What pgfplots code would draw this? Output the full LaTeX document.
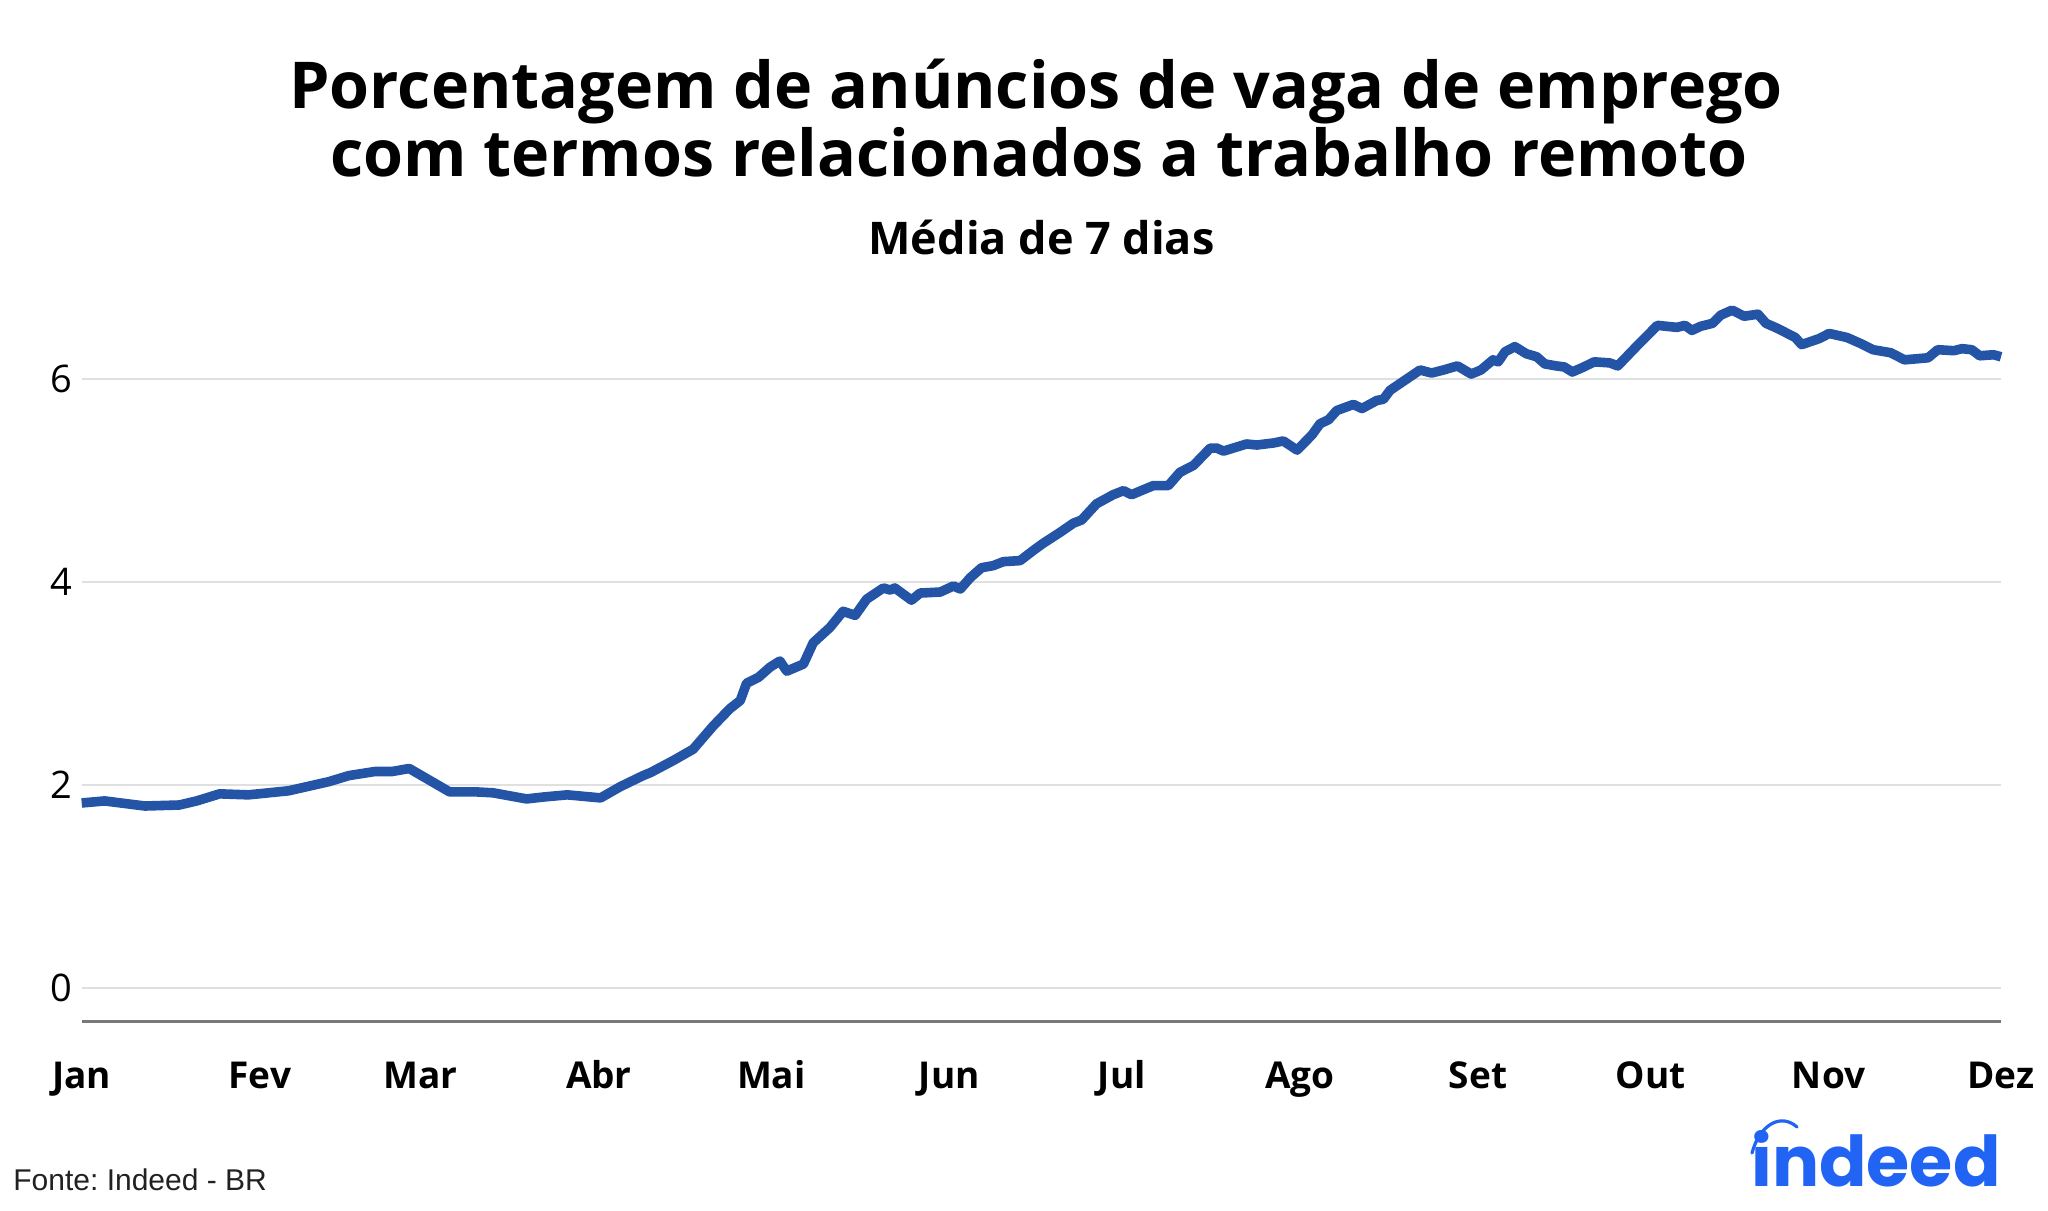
\documentclass[border=0pt]{standalone}
\usepackage{fontspec}
\setmainfont{Open Sans}
\newfontfamily\arialfont{Liberation Sans}
\newfontfamily\logofont{Poppins}
\usepackage{pgfplots}
\pgfplotsset{compat=1.18}
\definecolor{lineblue}{RGB}{35,84,166}
\definecolor{gridgray}{RGB}{224,224,224}
\definecolor{axisgray}{RGB}{120,120,120}
\definecolor{indeedblue}{RGB}{33,100,243}
\frenchspacing
\begin{document}
\begin{tikzpicture}
\useasboundingbox (0,0) rectangle (1024pt,605pt);
\begin{axis}[
  at={(40.85pt,94.15pt)}, anchor=south west,
  scale only axis, width=959.65pt, height=372pt,
  xmin=0, xmax=334, ymin=-0.337, ymax=7,
  clip=false,
  axis lines*=left,
  y axis line style={draw=none},
  x axis line style={draw=axisgray, line width=1.4pt, -},
  tick style={draw=none},
  major tick length=0pt,
  ytick={0,2,4,6},
  ymajorgrids,
  grid style={color=gridgray, line width=1pt},
  xtick={0,31,59,90,120,151,181,212,243,273,304,334},
  xticklabels={Jan,Fev,Mar,Abr,Mai,Jun,Jul,Ago,Set,Out,Nov,Dez},
  xticklabel style={font=\bfseries\fontsize{18.5}{20}\selectfont, anchor=base, yshift=-33.15pt},
  yticklabel style={font=\fontsize{19}{20}\selectfont, xshift=-1.15pt},
  /pgf/number format/assume math mode=true,
]
\addplot[color=lineblue, line width=4.8pt, line join=round, line cap=butt] coordinates {
(0,1.82) (4,1.84) (11,1.79) (17,1.80) (20,1.84) (24,1.91) (29,1.90) (36,1.94)
(43,2.03) (46.5,2.09) (51,2.13) (54,2.13) (57,2.16) (64,1.93) (68.4,1.93) (71.6,1.92)
(77.4,1.86) (80.6,1.88) (84.5,1.90) (90.3,1.87) (93.7,1.98) (97.7,2.09) (99,2.12)
(103,2.24) (106.4,2.35) (109.9,2.58) (112.8,2.75) (114.6,2.83) (115.7,3.00) (117.8,3.06)
(119.8,3.16) (121.5,3.22) (122.7,3.12) (125.6,3.19) (127.3,3.40) (130.2,3.55) (132.5,3.71)
(134.6,3.67) (136.6,3.83) (139.5,3.94) (140.7,3.92) (141.5,3.94) (144.4,3.82) (145.9,3.89)
(149.4,3.90) (151.7,3.96) (152.9,3.93) (154.6,4.04) (156.6,4.14) (158.6,4.16) (160.4,4.20)
(163.3,4.21) (165.6,4.31) (167.3,4.38) (170.3,4.49) (172.6,4.58) (174.0,4.61) (176.6,4.77)
(179.5,4.86) (181.3,4.90) (182.7,4.86) (184.8,4.91) (186.5,4.95) (189.1,4.95) (191.1,5.08)
(193.5,5.15) (196.4,5.32) (197.5,5.32) (198.7,5.29) (202.7,5.36) (204.5,5.35) (207.4,5.37)
(209.1,5.39) (211.5,5.30) (214.1,5.45) (215.5,5.56) (217.0,5.60) (218.4,5.69) (221.3,5.75)
(222.8,5.71) (225.4,5.79) (226.5,5.80) (227.7,5.89) (230.3,5.99) (232.9,6.09) (234.9,6.06)
(237.0,6.09) (239.4,6.13) (241.8,6.05) (243.5,6.09) (245.6,6.19) (246.5,6.17) (247.7,6.27)
(249.4,6.32) (251.4,6.25) (253.2,6.22) (254.6,6.15) (256.6,6.13) (258.0,6.12) (259.4,6.07)
(261.4,6.12) (263.2,6.17) (265.9,6.16) (267.3,6.13) (270.7,6.33) (274.2,6.53) (277.6,6.51)
(279.0,6.53) (280.2,6.48) (281.7,6.52) (283.8,6.55) (285.2,6.63) (287.2,6.68) (289.3,6.62)
(291.7,6.64) (293.1,6.55) (295.1,6.50) (298.2,6.41) (299.3,6.34) (302.4,6.40) (304.1,6.45)
(307.2,6.41) (309.6,6.35) (311.7,6.29) (314.8,6.26) (317.2,6.19) (321.3,6.21) (323.0,6.29)
(325.8,6.28) (327.2,6.30) (328.9,6.29) (330.3,6.23) (332.7,6.24) (334.0,6.22)
};
\end{axis}
\node[anchor=base, inner sep=0pt, font=\bfseries\fontsize{32.3}{34}\selectfont] at (518pt,550.85pt) {Porcentagem de anúncios de vaga de emprego};
\node[anchor=base, inner sep=0pt, font=\bfseries\fontsize{32.3}{34}\selectfont] at (519.5pt,516.65pt) {com termos relacionados a trabalho remoto};
\node[anchor=base, inner sep=0pt, font=\bfseries\fontsize{22.5}{24}\selectfont] at (520.75pt,477.5pt) {Média de 7 dias};
\node[anchor=base west, inner sep=0pt, font=\arialfont\fontsize{15}{17}\selectfont, text=black!87] at (6.5pt,10pt) {Fonte: Indeed - BR};
\node[anchor=base east, inner sep=0pt, font=\logofont\bfseries\fontsize{35}{37}\selectfont, text=indeedblue] at (1000.5pt,12pt) {indeed};
\draw[indeedblue, line width=1.6pt, line cap=round] (876pt,28.5pt) .. controls (879.5pt,42pt) and (890pt,49pt) .. (898.5pt,41.5pt);
\end{tikzpicture}
\end{document}
